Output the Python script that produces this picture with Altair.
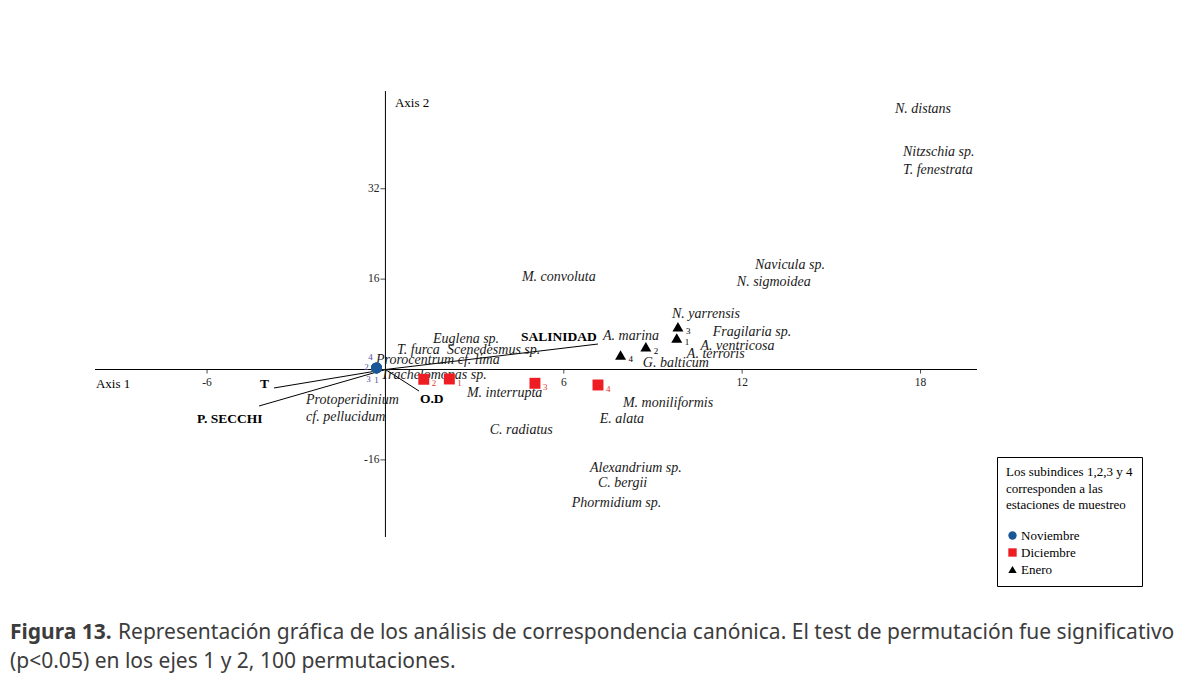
import altair as alt
import pandas as pd

# ---------------- data ----------------
species_names = ["N. distans", "Nitzschia sp.", "T. fenestrata", "Navicula sp.", "N. sigmoidea",
                 "M. convoluta", "N. yarrensis", "Fragilaria sp.", "A. ventricosa", "A. terroris",
                 "G. balticum", "A. marina", "Euglena sp.", "T. furca", "Scenedesmus sp.",
                 "Prorocentrum cf. lima", "Trachelomonas sp.", "M. interrupta", "Protoperidinium",
                 "cf. pellucidum", "M. moniliformis", "E. alata", "C. radiatus", "Alexandrium sp.",
                 "C. bergii", "Phormidium sp."]
species_x = [17.14, 17.41, 17.41, 12.43, 11.82, 4.59, 9.64, 11.01, 10.60, 10.14, 8.66, 7.32, 1.60,
             0.39, 2.07, -0.32, -0.15, 2.74, -2.67, -2.67, 7.99, 7.21, 3.51, 6.88, 7.15, 6.27]
species_y = [46.2, 38.5, 35.3, 18.5, 15.5, 16.4, 9.8, 6.6, 4.2, 2.7, 1.15, 5.9, 5.4, 3.45, 3.45,
             1.7, -1.0, -4.2, -5.4, -8.4, -5.9, -8.8, -10.7, -17.5, -20.1, -23.6]

env_names = ["SALINIDAD", "T", "P. SECCHI", "O.D"]
env_start_x = [0, 0, 0, 0]
env_start_y = [0, 0, 0, 0]
env_end_x = [7.15, -3.75, -4.25, 1.13]
env_end_y = [4.51, -3.27, -6.46, -3.81]
env_label_x = [4.56, -4.22, -6.34, 1.16]
env_label_y = [5.75, -2.57, -8.76, -5.22]

site_month = ["Noviembre"] * 4 + ["Diciembre"] * 4 + ["Enero"] * 4
site_station = ["1", "2", "3", "4"] * 3
site_x = [-0.30] * 4 + [2.15, 1.29, 5.03, 7.15] + [9.80, 8.76, 9.84, 7.91]
site_y = [0.27] * 4 + [-1.68, -1.73, -2.44, -2.74] + [5.58, 4.04, 7.58, 2.57]

month_order = ["Noviembre", "Diciembre", "Enero"]
month_colors = ["#1b5797", "#ee1d23", "#000000"]
month_shapes = ["circle", "square", "triangle-up"]
subscript_colors = {"Noviembre": "#4b4ba0", "Diciembre": "#e8362f", "Enero": "#000000"}

x_ticks = [-6, 6, 12, 18]
y_ticks = [-16, 16, 32]
x_axis_extent = [-9.77, 19.9]
y_axis_extent = [-29.65, 49.3]

axis_titles = ["Axis 1", "Axis 2"]
axis_title_x = [-9.74, 0.32]
axis_title_y = [-2.57, 47.2]

legend_title = ["Los subindices 1,2,3 y 4", "corresponden a las", "estaciones de muestreo"]
caption_bold = "Figura 13."
caption_line1 = ("Representación gráfica de los análisis de correspondencia canónica. "
                 "El test de permutación fue significativo")
caption_line2 = "(p<0.05) en los ejes 1 y 2, 100 permutaciones."

# ---------------- tables ----------------
species_df = pd.DataFrame({"name": species_names, "x": species_x, "y": species_y})
env_df = pd.DataFrame({"name": env_names, "x0": env_start_x, "y0": env_start_y,
                       "x1": env_end_x, "y1": env_end_y, "lx": env_label_x, "ly": env_label_y})
site_df = pd.DataFrame({"month": site_month, "station": site_station, "x": site_x, "y": site_y})
xt_df = pd.DataFrame({"v": x_ticks, "z": [0] * len(x_ticks), "lab": [str(v) for v in x_ticks]})
yt_df = pd.DataFrame({"v": y_ticks, "z": [0] * len(y_ticks), "lab": [str(v) for v in y_ticks]})
hline_df = pd.DataFrame({"x0": [x_axis_extent[0]], "x1": [x_axis_extent[1]], "y": [0]})
vline_df = pd.DataFrame({"y0": [y_axis_extent[0]], "y1": [y_axis_extent[1]], "x": [0]})
atitle_df = pd.DataFrame({"t": axis_titles, "x": axis_title_x, "y": axis_title_y})
cap_df = pd.DataFrame({"t": [caption_bold], "l1": [caption_line1], "l2": [caption_line2]})

XS = alt.Scale(domain=x_axis_extent, nice=False, zero=False)
YS = alt.Scale(domain=y_axis_extent, nice=False, zero=False)
SERIF = "Liberation Serif"


def X(f):
    return alt.X(f, type="quantitative", scale=XS, axis=None)


def Y(f):
    return alt.Y(f, type="quantitative", scale=YS, axis=None)


hline = alt.Chart(hline_df).mark_rule(color="black", strokeWidth=1).encode(
    x=X("x0"), x2="x1", y=Y("y"))
vline = alt.Chart(vline_df).mark_rule(color="black", strokeWidth=1).encode(
    y=Y("y0"), y2="y1", x=X("x"))

xticks = alt.Chart(xt_df).mark_tick(orient="vertical", size=4, thickness=1, color="black",
                                    yOffset=2).encode(x=X("v"), y=Y("z"))
xlabels = alt.Chart(xt_df).mark_text(font=SERIF, fontSize=11.5, color="#222", baseline="middle",
                                     dy=13).encode(x=X("v"), y=Y("z"), text="lab:N")
yticks = alt.Chart(yt_df).mark_tick(orient="horizontal", size=5, thickness=1, color="black",
                                    xOffset=-2.5).encode(x=X("z"), y=Y("v"))
ylabels = alt.Chart(yt_df).mark_text(font=SERIF, fontSize=11.5, color="#222", align="right",
                                     baseline="middle", dx=-6).encode(x=X("z"), y=Y("v"), text="lab:N")
atitles = alt.Chart(atitle_df).mark_text(font=SERIF, fontSize=13, color="black", align="left",
                                         baseline="middle").encode(x=X("x"), y=Y("y"), text="t:N")

vectors = alt.Chart(env_df).mark_rule(color="black", strokeWidth=1).encode(
    x=X("x0"), y=Y("y0"), x2="x1", y2="y1")
env_text = alt.Chart(env_df).mark_text(font=SERIF, fontSize=13.5, fontWeight="bold", color="black",
                                       align="left", baseline="middle").encode(
    x=X("lx"), y=Y("ly"), text="name:N")

species_text = alt.Chart(species_df).mark_text(font=SERIF, fontSize=14, fontStyle="italic",
                                               color="#1a1a1a", align="left",
                                               baseline="middle").encode(
    x=X("x"), y=Y("y"), text="name:N")

legend_kw = dict(title=legend_title, orient="none", legendX=902, legendY=366,
                 strokeColor="black", fillColor="white", padding=9, titlePadding=17,
                 titleFont=SERIF, titleFontSize=13, titleFontWeight="normal", titleColor="black",
                 titleLineHeight=16.5, labelFont=SERIF, labelFontSize=13, labelColor="black",
                 symbolSize=70, rowPadding=3, labelOffset=2, symbolStrokeWidth=0)

points = alt.Chart(site_df).mark_point(filled=True, opacity=1, size=120).encode(
    x=X("x"), y=Y("y"),
    color=alt.Color("month:N", scale=alt.Scale(domain=month_order, range=month_colors),
                    legend=alt.Legend(**legend_kw)),
    shape=alt.Shape("month:N", scale=alt.Scale(domain=month_order, range=month_shapes),
                    legend=alt.Legend(**legend_kw)),
)

subs = []
for m in ["Diciembre", "Enero"]:
    subs.append(
        alt.Chart(site_df).transform_filter(alt.datum.month == m).mark_text(
            font=SERIF, fontSize=9, align="left", baseline="middle", dx=8, dy=4,
            color=subscript_colors[m]).encode(x=X("x"), y=Y("y"), text="station:N"))

nov_offsets = {"1": (0, 12), "2": (-10, -1), "3": (-8, 11), "4": (-6, -11)}
for st, (ddx, ddy) in nov_offsets.items():
    subs.append(
        alt.Chart(site_df).transform_filter(
            (alt.datum.month == "Noviembre") & (alt.datum.station == st)).mark_text(
            font=SERIF, fontSize=9, align="center", baseline="middle", dx=ddx, dy=ddy,
            color=subscript_colors["Noviembre"]).encode(x=X("x"), y=Y("y"), text="station:N"))

CAP_FONT = "Noto Sans"
cap_bold = alt.Chart(cap_df).mark_text(font=CAP_FONT, fontSize=21, fontWeight="bold",
                                       color="#3c3c3c", align="left", baseline="middle").encode(
    x=alt.value(-85), y=alt.value(542), text="t:N")
cap_l1 = alt.Chart(cap_df).mark_text(font=CAP_FONT, fontSize=21, color="#3c3c3c",
                                     align="left", baseline="middle").encode(
    x=alt.value(23), y=alt.value(542), text="l1:N")
cap_l2 = alt.Chart(cap_df).mark_text(font=CAP_FONT, fontSize=21, color="#3c3c3c",
                                     align="left", baseline="middle").encode(
    x=alt.value(-85), y=alt.value(571), text="l2:N")

chart = alt.layer(
    hline, vline, xticks, xlabels, yticks, ylabels, atitles, vectors, env_text, species_text,
    points, *subs, cap_bold, cap_l1, cap_l2
).properties(
    width=882, height=446,
    autosize=alt.AutoSizeParams(type="none"),
    padding={"left": 87, "top": 83, "right": 200, "bottom": 140},
    background="white",
).configure_view(stroke=None)

chart.save("out.html", embed_options={"renderer": "svg", "actions": False})
